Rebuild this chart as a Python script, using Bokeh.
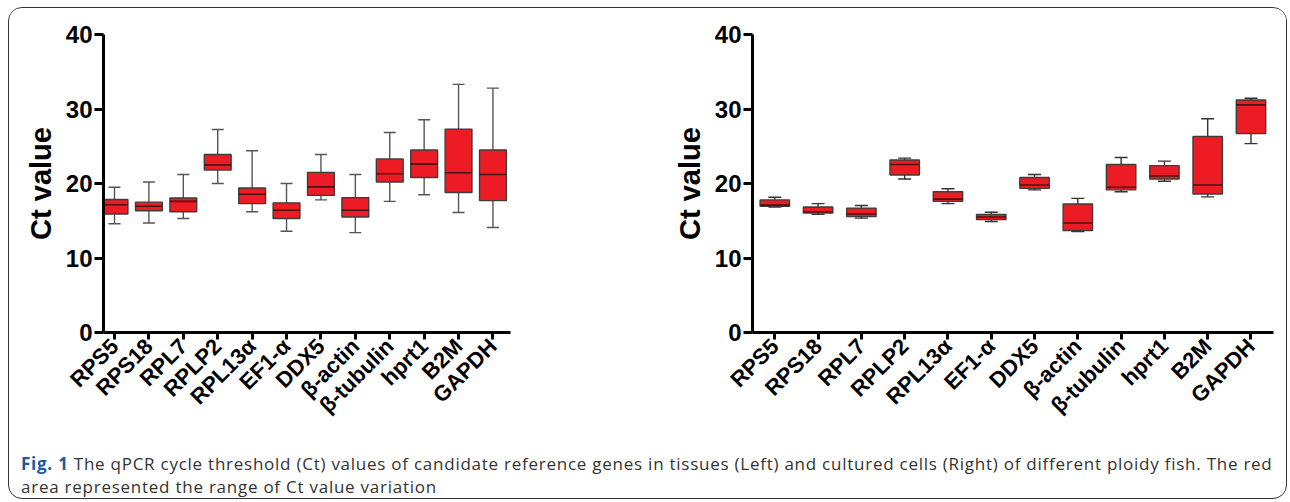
import math
from bokeh.plotting import figure
from bokeh.models import FixedTicker, Whisker, ColumnDataSource, Div, TeeHead
from bokeh.layouts import row, column
from bokeh.embed import file_html
from bokeh.resources import INLINE

genes = ["RPS5", "RPS18", "RPL7", "RPLP2", "RPL13α", "EF1-α", "DDX5",
         "β-actin", "β-tubulin", "hprt1", "B2M", "GAPDH"]

# Left: tissues
left_low = [14.6, 14.7, 15.3, 20.0, 16.2, 13.6, 17.8, 13.4, 17.6, 18.5, 16.1, 14.1]
left_q1 = [15.9, 16.35, 16.2, 21.8, 17.3, 15.3, 18.4, 15.5, 20.2, 20.8, 18.8, 17.7]
left_med = [17.15, 16.95, 17.6, 22.5, 18.55, 16.4, 19.55, 16.4, 21.3, 22.6, 21.45, 21.2]
left_q3 = [17.85, 17.5, 18.05, 23.9, 19.4, 17.4, 21.5, 18.1, 23.3, 24.5, 27.3, 24.5]
left_high = [19.5, 20.2, 21.2, 27.25, 24.4, 20.0, 23.9, 21.2, 26.85, 28.55, 33.3, 32.8]

# Right: cultured cells
right_low = [16.85, 15.85, 15.35, 20.6, 17.3, 14.9, 19.15, 13.55, 18.9, 20.3, 18.2, 25.35]
right_q1 = [16.95, 16.05, 15.55, 21.15, 17.6, 15.15, 19.35, 13.7, 19.15, 20.6, 18.6, 26.7]
right_med = [17.1, 16.2, 15.9, 22.55, 17.9, 15.5, 19.8, 14.7, 19.5, 21.0, 19.8, 30.55]
right_q3 = [17.8, 16.85, 16.7, 23.15, 18.9, 15.85, 20.8, 17.25, 22.55, 22.4, 26.3, 31.2]
right_high = [18.15, 17.3, 17.05, 23.4, 19.3, 16.15, 21.2, 18.0, 23.5, 23.0, 28.7, 31.45]

y_ticks = [0, 10, 20, 30, 40]
caption_bold = "Fig. 1"
caption_text = ("The qPCR cycle threshold (Ct) values of candidate reference genes in tissues (Left) "
                "and cultured cells (Right) of different ploidy fish. The red")
caption_text2 = "area represented the range of Ct value variation"

RED = "#ed1c24"
FONT = "Liberation Sans"


def make_plot(low, q1, med, q3, high, x_range, width, mb_left, mb_right,
              box_w, cap_px, med_px, whisk_color):
    xs = list(range(len(genes)))
    src = ColumnDataSource(dict(x=xs, low=low, q1=q1, med=med, q3=q3, high=high))
    p = figure(output_backend="svg", toolbar_location=None,
               width=width, height=422,
               x_range=x_range, y_range=(0, 40),
               min_border_left=mb_left, min_border_right=mb_right,
               min_border_top=26, min_border_bottom=98,
               outline_line_color=None, background_fill_color="white",
               border_fill_color="white")
    p.grid.visible = False
    w = Whisker(source=src, base="x", upper="high", lower="low",
                line_color=whisk_color, line_width=1.4, level="underlay",
                upper_head=TeeHead(size=cap_px, line_color=whisk_color, line_width=1.4),
                lower_head=TeeHead(size=cap_px, line_color=whisk_color, line_width=1.4))
    p.add_layout(w)
    p.vbar(x="x", bottom="q1", top="q3", width=box_w, source=src,
           fill_color=RED, line_color="#3d3d3d", line_width=1.4)
    p.dash(x="x", y="med", size=med_px, source=src, line_color="#4a1212",
           line_width=1.6, angle=0)

    p.xaxis.ticker = FixedTicker(ticks=xs)
    p.xaxis.major_label_overrides = {i: g for i, g in enumerate(genes)}
    p.xaxis.major_label_orientation = math.pi / 4
    p.xaxis.major_label_text_font = FONT
    p.xaxis.major_label_text_font_style = "bold"
    p.xaxis.major_label_text_font_size = "22px"
    p.xaxis.major_label_text_color = "black"
    p.xaxis.major_label_standoff = 3
    p.xaxis.major_tick_out = 7
    p.xaxis.major_tick_in = 0
    p.xaxis.minor_tick_line_color = None

    p.yaxis.ticker = FixedTicker(ticks=y_ticks)
    p.yaxis.major_label_text_font = FONT
    p.yaxis.major_label_text_font_style = "bold"
    p.yaxis.major_label_text_font_size = "24px"
    p.yaxis.major_label_text_color = "black"
    p.yaxis.major_label_standoff = 2
    p.yaxis.major_tick_out = 9
    p.yaxis.major_tick_in = 0
    p.yaxis.minor_tick_line_color = None
    p.yaxis.axis_label = "Ct value"
    p.yaxis.axis_label_text_font = FONT
    p.yaxis.axis_label_text_font_style = "bold"
    p.yaxis.axis_label_text_font_size = "29px"
    p.yaxis.axis_label_text_color = "black"
    p.yaxis.axis_label_standoff = 6

    for ax in (p.xaxis, p.yaxis):
        ax.axis_line_width = 3
        ax.axis_line_color = "black"
        ax.major_tick_line_width = 3
        ax.major_tick_line_color = "black"
    return p


p_left = make_plot(left_low, left_q1, left_med, left_q3, left_high,
                   (-0.32, 11.51), 601, 94, 100, 0.78, 12, 27, "#555555")
p_right = make_plot(right_low, right_q1, right_med, right_q3, right_high,
                    (-0.515, 11.52), 676, 142, 13, 0.68, 13, 29, "#333333")

cap = Div(text=(f'<span style="color:#1b5aa6;font-weight:bold">{caption_bold}</span> '
                f'{caption_text}<br>{caption_text2}'),
          width=1265, height=58,
          styles={"font-family": "Open Sans", "font-size": "17px", "line-height": "23px",
                  "letter-spacing": "0.75px",
                  "color": "#333333", "padding-left": "7px", "padding-top": "17px",
                  "white-space": "nowrap"})

layout = column(row(p_left, p_right), cap,
                styles={"border": "1.5px solid #333333", "border-radius": "14px",
                        "overflow": "hidden", "background-color": "white",
                        "margin-left": "8px", "margin-top": "7px"})

open("out.html", "w").write(file_html(layout, INLINE))
